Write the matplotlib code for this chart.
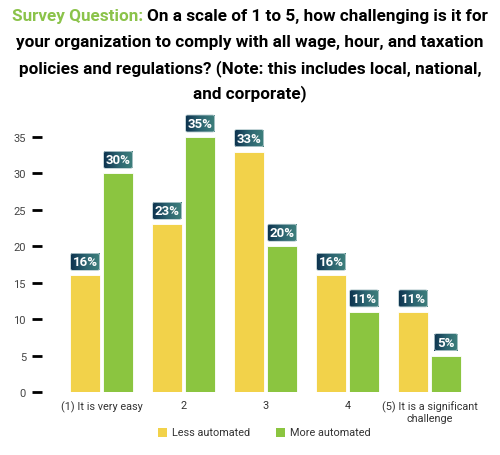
import matplotlib
matplotlib.use("Agg")
import matplotlib.pyplot as plt
import numpy as np
from matplotlib.patches import FancyBboxPatch, Rectangle
from matplotlib.colors import LinearSegmentedColormap

categories = ["(1) It is very easy", "2", "3", "4", "(5) It is a significant\nchallenge"]
less_automated = [16, 23, 33, 16, 11]
more_automated = [30, 35, 20, 11, 5]
series_names = ["Less automated", "More automated"]
yticks = [0, 5, 10, 15, 20, 25, 30, 35]

YELLOW = "#F2D24A"
GREEN = "#8BC540"
TITLE_GREEN = "#8BC34A"

plt.rcParams['font.family'] = ['Roboto', 'DejaVu Sans']

W, H = 500, 456
fig = plt.figure(figsize=(W / 100, H / 100), dpi=100)

left_px, right_px = 42, 490
bottom_px, top_px = 393, 116
ax = fig.add_axes([left_px / W, 1 - bottom_px / H, (right_px - left_px) / W, (bottom_px - top_px) / H])

spacing = 82.0
first_center = 101.5
x = np.arange(len(categories))
ax.set_xlim(-(first_center - left_px) / spacing, (right_px - first_center) / spacing)
ax.set_ylim(0, 35 * (bottom_px - top_px) / (393 - 138))

bw = 30 / spacing
off = 16.5 / spacing
ax.bar(x - off, less_automated, width=bw, color=YELLOW, edgecolor="white", linewidth=0.6, zorder=2)
ax.bar(x + off, more_automated, width=bw, color=GREEN, edgecolor="white", linewidth=0.6, zorder=2)

for s in ax.spines.values():
    s.set_visible(False)
ax.set_yticks(yticks)
ax.set_yticklabels([str(v) for v in yticks], fontsize=8, color="#444444")
ax.tick_params(axis="y", length=7.5, width=2, color="black", pad=4, direction="out")
ax.set_xticks(x)
ax.set_xticklabels(categories, fontsize=7.8, color="#333333", linespacing=1.15)
ax.tick_params(axis="x", length=0, pad=6)

cmap = LinearSegmentedColormap.from_list("lab", ["#0E3450", "#2C6470", "#3E807C"])
grad = np.linspace(0, 1, 64).reshape(1, -1)
inv = ax.transData.inverted()
fig.canvas.draw()


def add_label(xc, val):
    px, py = ax.transData.transform((xc, val))
    txt = f"{val}%"
    w = 29 if len(txt) >= 3 else 23
    h = 17
    x0, y0 = px - w / 2, py + 5
    (dx0, dy0) = inv.transform((x0, y0))
    (dx1, dy1) = inv.transform((x0 + w, y0 + h))
    patch = FancyBboxPatch((dx0, dy0), dx1 - dx0, dy1 - dy0,
                           boxstyle="round,pad=0,rounding_size=0.025",
                           mutation_aspect=(dy1 - dy0) / (dx1 - dx0) * (w / h),
                           facecolor="none", edgecolor="#B8CCD0", linewidth=0.6, zorder=4, clip_on=False)
    ax.add_patch(patch)
    im = ax.imshow(grad, cmap=cmap, extent=(dx0, dx1, dy0, dy1), aspect="auto", zorder=3, clip_on=False)
    im.set_clip_path(patch)
    ax.text((dx0 + dx1) / 2, (dy0 + dy1) / 2, txt, color="white", fontsize=9.5, fontweight="bold",
            ha="center", va="center", zorder=5)


for i in range(len(categories)):
    add_label(x[i] - off, less_automated[i])
    add_label(x[i] + off, more_automated[i])
ax.set_xlim(ax.get_xlim())
ax.set_ylim(ax.get_ylim())

leg_y = 1 - 433 / H
fig.patches.append(Rectangle((158 / W, leg_y - 4.5 / H), 9 / W, 9 / H, transform=fig.transFigure,
                             facecolor=YELLOW, edgecolor="none"))
fig.text(172 / W, leg_y, series_names[0], fontsize=7.8, color="#333333", va="center", ha="left")
fig.patches.append(Rectangle((276 / W, leg_y - 4.5 / H), 9 / W, 9 / H, transform=fig.transFigure,
                             facecolor=GREEN, edgecolor="none"))
fig.text(290 / W, leg_y, series_names[1], fontsize=7.8, color="#333333", va="center", ha="left")

title_fs = 12.3
lines = ["your organization to comply with all wage, hour, and taxation",
         "policies and regulations? (Note: this includes local, national,",
         "and corporate)"]
part_a = "Survey Question: "
part_b = "On a scale of 1 to 5, how challenging is it for"
line_y = [17, 43, 69, 94]
r = fig.canvas.get_renderer()
ta = fig.text(0, 0, part_a, fontsize=title_fs, fontweight="bold", color=TITLE_GREEN)
tb = fig.text(0, 0, part_b, fontsize=title_fs, fontweight="bold", color="black")
wa = ta.get_window_extent(r).width
wb = tb.get_window_extent(r).width
start = (W - (wa + wb)) / 2
ta.set_position((start / W, 1 - line_y[0] / H)); ta.set_va("center")
tb.set_position(((start + wa) / W, 1 - line_y[0] / H)); tb.set_va("center")
for ln, yy in zip(lines, line_y[1:]):
    fig.text(0.5, 1 - yy / H, ln, fontsize=title_fs, fontweight="bold", color="black", ha="center", va="center")

fig.savefig("out.png", dpi=100)
